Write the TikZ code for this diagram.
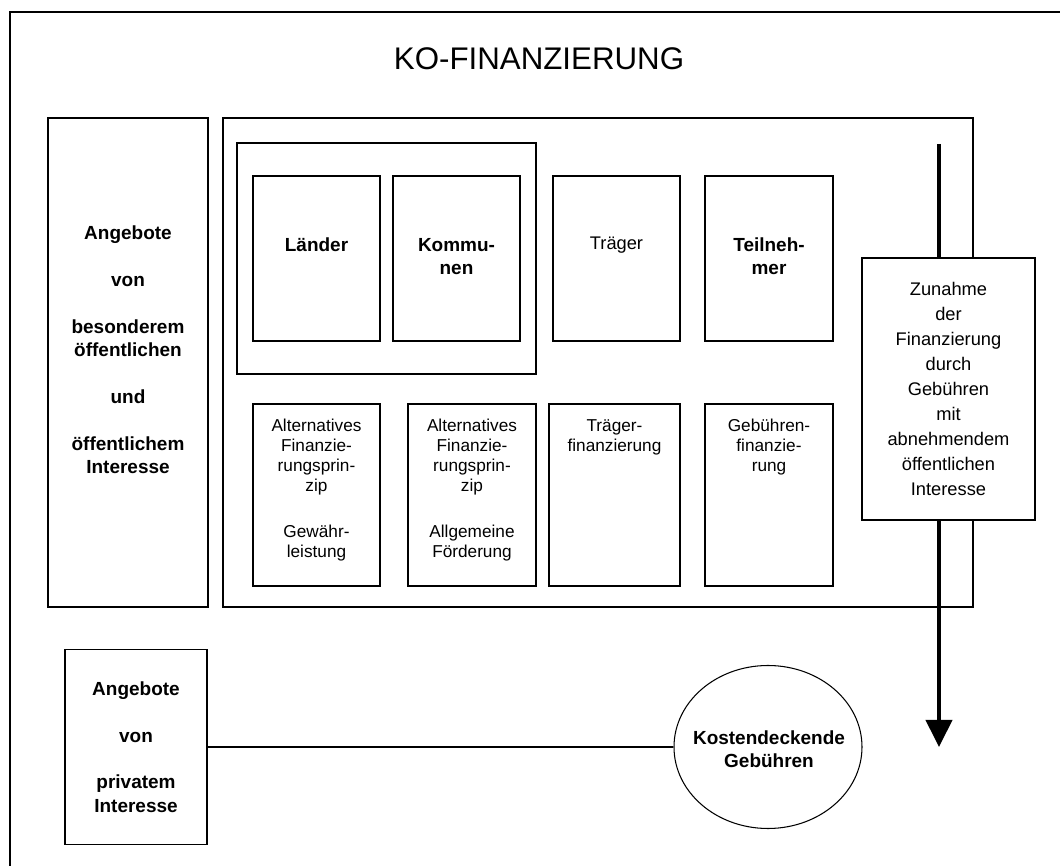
\documentclass[tikz,border=0pt]{standalone}
\usepackage{fontspec}
\setmainfont{Liberation Sans}
\usetikzlibrary{arrows.meta,fit,shapes.geometric}

\begin{document}
\begin{tikzpicture}[x=0.2mm,y=-0.2mm,
    kasten/.style={draw,line width=0.6pt,fill=white,inner sep=0pt},
    fett/.style={font=\fontsize{10.8}{13.3}\selectfont\bfseries,align=center,inner sep=0pt},
    mittel/.style={font=\fontsize{10.4}{14.2}\selectfont,align=center,inner sep=0pt},
    klein/.style={font=\fontsize{9.8}{11.4}\selectfont,align=center,inner sep=0pt}]
    \useasboundingbox (0,0) rectangle (1060,866);
    \draw[line width=1.2pt] (10,866) |- (1060,12);
    \node[font=\fontsize{17.8}{20}\selectfont] (titel) at (539,59) {KO-FINANZIERUNG};
    % linke Spalte
    \node[kasten,fit={(48,118) (208,607)}] (oeffentlich) {};
    \node[fett] (oeffentlich-t) at (128,350) {Angebote\\[4.7mm]von\\[4.7mm]besonderem\\öffentlichen\\[4.7mm]und\\[4.7mm]öffentlichem\\Interesse};
    % grosser Kasten
    \node[kasten,fit={(223,118) (973,607)}] (kofin) {};
    \node[kasten,fit={(237,143) (536,374)}] (gebiet) {};
    \node[kasten,fit={(253,176) (380,341)}] (laender) {};
    \node[kasten,fit={(393,176) (520,341)}] (kommunen) {};
    \node[kasten,fit={(553,176) (680,341)}] (traeger) {};
    \node[kasten,fit={(705,176) (833,341)}] (teilnehmer) {};
    \node[fett] (laender-t) at (316.5,245) {Länder};
    \node[fett] (kommunen-t) at (456.5,256.5) {Kommu-\\nen};
    \node[mittel] (traeger-t) at (616.5,245) {Träger};
    \node[fett] (teilnehmer-t) at (769,256.5) {Teilneh-\\mer};
    % untere Reihe
    \node[kasten,fit={(253,404) (380,586)}] (gewaehr) {};
    \node[kasten,fit={(408,404) (536,586)}] (foerder) {};
    \node[kasten,fit={(549,404) (680,586)}] (traegerfin) {};
    \node[kasten,fit={(705,404) (833,586)}] (gebuehrfin) {};
    \node[klein] (gewaehr-t) at (316.5,490) {Alternatives\\Finanzie-\\rungsprin-\\zip\\[5.2mm]Gewähr-\\leistung};
    \node[klein] (foerder-t) at (472,490) {Alternatives\\Finanzie-\\rungsprin-\\zip\\[5.2mm]Allgemeine\\Förderung};
    \node[klein] (traegerfin-t) at (614.5,437.5) {Träger-\\finanzierung};
    \node[klein] (gebuehrfin-t) at (769,447.5) {Gebühren-\\finanzie-\\rung};
    % Pfeil
    \coordinate (pfeiloben) at (939,144);
    \coordinate (pfeilunten) at (939,747);
    \draw[line width=0.8mm,-{Triangle[width=5.2mm,length=5.4mm]}] (pfeiloben) -- (pfeilunten);
    \node[kasten,mittel,draw,fill=white,minimum width=34.6mm,minimum height=52.4mm] (zunahme) at (948.5,389) {Zunahme\\der\\Finanzierung\\durch\\Gebühren\\mit\\abnehmendem\\öffentlichen\\Interesse};
    % unten
    \node[kasten,fett,draw,minimum width=28.4mm,minimum height=39mm] (privat) at (136,747) {Angebote\\[4.7mm]von\\[4.7mm]privatem\\Interesse};
    \node[draw,ellipse,line width=0.6pt,inner sep=0pt,minimum width=37.6mm,minimum height=32.6mm] (kosten) at (768,747) {};
    \node[fett] (kosten-t) at (769,749) {Kostendeckende\\Gebühren};
    \draw[line width=0.6pt] (privat) -- (kosten);
\end{tikzpicture}
\end{document}
